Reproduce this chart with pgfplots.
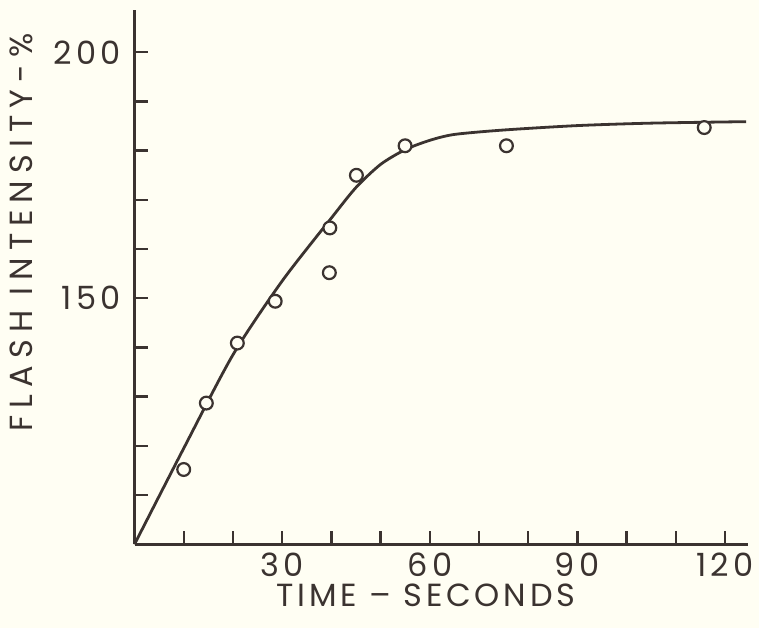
\documentclass[border=0pt]{standalone}
\usepackage{pgfplots}
\pgfplotsset{compat=1.18}
\usepackage{fontspec}
\setmainfont{Poppins}
\newfontfamily\ticksfont[LetterSpace=14]{Poppins}
\newfontfamily\xlabfont[LetterSpace=12]{Poppins}
\newfontfamily\ylabfont[LetterSpace=22]{Poppins}
\usetikzlibrary{backgrounds}
\definecolor{ink}{HTML}{3B3330}
\definecolor{paper}{HTML}{FFFEF3}

\begin{document}
\begin{tikzpicture}[show background rectangle, inner frame sep=0pt,
  background rectangle/.style={fill=paper, draw=none}]
\begin{axis}[
  x=2.46pt, y=2.46pt,
  xmin=0, xmax=124.7, ymin=100, ymax=208.5,
  axis x line*=bottom, axis y line*=left,
  axis line style={ink, line width=1.4pt},
  xtick={30,60,90,120}, minor xtick={10,20,40,50,70,80,100,110},
  ytick={150,200}, minor ytick={110,120,130,140,160,170,180,190},
  tick align=inside,
  major tick length=6.5pt, minor tick length=6.5pt,
  every tick/.style={ink, line width=1.2pt},
  minor tick style={ink, line width=1.2pt},
  major tick style={ink, line width=1.2pt},
  clip=false,
  font=\fontsize{16}{19}\selectfont,
  /pgf/number format/assume math mode=true,
  ticklabel style={text=ink, font=\ticksfont\fontsize{16}{19}\selectfont},
  xticklabel style={anchor=north, inner sep=0pt, yshift=-4.2pt},
  yticklabel style={anchor=east, inner sep=0pt, xshift=-6.5pt},
  xlabel={TIME \textendash{} SECONDS},
  ylabel={FLASH INTENSITY-\%},
  xlabel style={at={(axis description cs:0.475,-0.0955)}, anchor=center, inner sep=0pt, text=ink, font=\xlabfont\fontsize{16}{19}\selectfont},
  ylabel style={at={(axis description cs:-0.184,0.584)}, anchor=center, inner sep=0pt, text=ink, font=\ylabfont\fontsize{16}{19}\selectfont},
]
\path (axis cs:-27.34,82.99) rectangle (axis cs:126.93,210.63);
\addplot[ink, line width=1.4pt, smooth, tension=0.45] coordinates {
  (0,100) (10,119.5) (20,138.5) (30,153.5) (40,166.3) (45,172.5)
  (50,177.2) (55,180.2) (60,182.1) (65,183.3) (75,184.2) (90,185.1)
  (105,185.6) (124.3,185.9)
};
\addplot[only marks, mark=*, mark size=3.2pt,
  mark options={draw=ink, fill=paper, line width=1.1pt}] coordinates {
  (10.0,115.2) (14.6,128.7) (20.9,140.9) (28.6,149.4) (39.7,164.3)
  (39.6,155.2) (45.1,175.0) (55.0,181.0) (75.6,181.0) (115.8,184.7)
};
\end{axis}
\end{tikzpicture}
\end{document}
